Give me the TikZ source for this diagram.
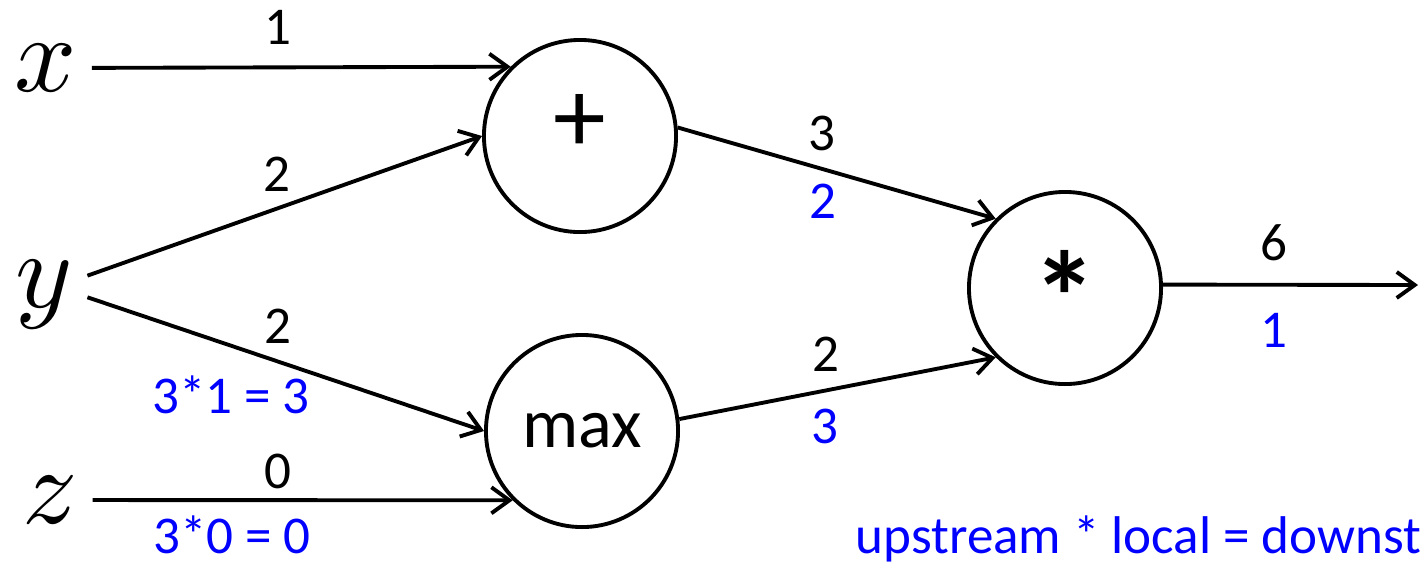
\documentclass[tikz,border=0pt]{standalone}
\usepackage{fontspec}
\setmainfont{Carlito}
\usepackage{graphicx}
\usepackage{tikz}
\usetikzlibrary{arrows.meta, positioning}
\definecolor{gradblue}{RGB}{0,0,255}
\newcommand{\bigvar}[1]{\scalebox{3.1}{$#1$}}

\begin{document}
\begin{tikzpicture}[
		x=0.01cm, y=-0.01cm,
		gate/.style={draw, circle, line width=1.1pt, minimum size=1.92cm, inner sep=0pt,
			font=\fontsize{20}{24}\selectfont},
		var/.style={inner sep=4pt},
		val/.style={anchor=base, inner sep=0pt, font=\fontsize{15.1}{18}\selectfont},
		grad/.style={val, text=gradblue},
		arrow/.style={-{Straight Barb[length=1.8mm, width=2.6mm]}, line width=1.1pt}
	]
		\useasboundingbox (0,0) rectangle (1422,563);

		\node[var] (x) at (46,68) {\bigvar{x}};
		\node[var] (y) at (44,295) {\bigvar{y}};
		\node[var] (z) at (50,500) {\bigvar{z}};

		\node[gate] (plus) at (580,136) {\raisebox{-0.16cm}[0pt][0pt]{\fontsize{30}{30}\selectfont +}};
		\node[gate] (max) at (582,431) {max};
		\node[gate] (mul) at (1065,288) {\raisebox{-0.55cm}[0pt][0pt]{\scalebox{1.85}{\bfseries *}}};
		\coordinate (out) at (1418,285);

		\draw[arrow] (x) -- (plus.135);
		\draw[arrow] (y.24) -- (plus.west);
		\draw[arrow] (y.-3) -- (max.west);
		\draw[arrow] (z) -- (max.225);
		\draw[arrow] (plus.5) -- (mul.135);
		\draw[arrow] (max.7) -- (mul.225);
		\draw[arrow] (mul.2) -- (out);

		% forward values and gradients
		\node[val] (lx) at (278,44) {1};
		\node[val] (ly1) at (277,191) {2};
		\node[val] (ly2) at (278,343) {2};
		\node[grad] (gy) at (231,413) {3*1 = 3};
		\node[val] (lz) at (278,488) {0};
		\node[grad] (gz) at (232,553) {3*0 = 0};
		\node[val] (lplus) at (822,150) {3};
		\node[grad] (gplus) at (823,218) {2};
		\node[val] (lmax) at (826,371) {2};
		\node[grad] (gmax) at (825,443) {3};
		\node[val] (lmul) at (1274,260) {6};
		\node[grad] (gmul) at (1274,347) {1};
		\node[grad, anchor=base west] (rule) at (855,553) {upstream * local = downst};
	\end{tikzpicture}
\end{document}
